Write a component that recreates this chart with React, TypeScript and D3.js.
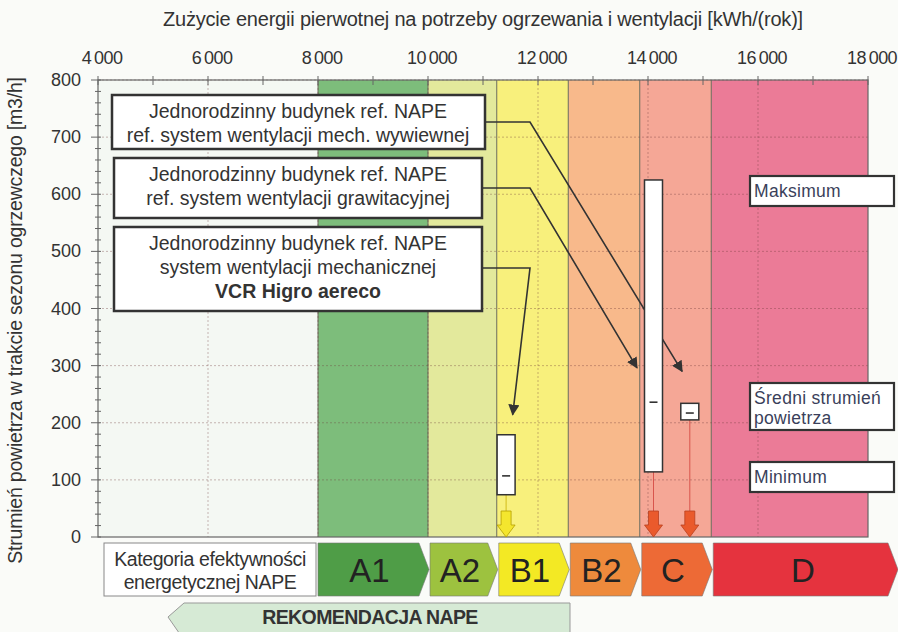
import * as d3 from 'd3';
import React from 'react';

// axis ticks
const energyTicks = [4000, 6000, 8000, 10000, 12000, 14000, 16000, 18000];
const energyMinor = d3.range(4000, 18001, 1000);
const flowTicks = [0, 100, 200, 300, 400, 500, 600, 700, 800];
const flowMinor = d3.range(0, 801, 20);

// energy classes (kWh/rok)
const classNames = ['A1', 'A2', 'B1', 'B2', 'C', 'D'];
const classStart = [8000, 10000, 11250, 12550, 13850, 15150];
const classEnd = [10000, 11250, 12550, 13850, 15150, 18000];
const bandColors = ['#7dbd7b', '#e3e99c', '#f8f07c', '#f8b98b', '#f5a796', '#eb7b97'];
const chipColors = ['#4f9d47', '#9dc23f', '#f3e924', '#ee8a3c', '#ed6a36', '#e5333e'];

// ventilation systems
const systemLabels = [
  ['Jednorodzinny budynek ref. NAPE', 'ref. system wentylacji mech. wywiewnej'],
  ['Jednorodzinny budynek ref. NAPE', 'ref. system wentylacji grawitacyjnej'],
  ['Jednorodzinny budynek ref. NAPE', 'system wentylacji mechanicznej', 'VCR Higro aereco'],
];
const systemEnergy = [14760, 14100, 11420];
const flowMin = [205, 114, 74];
const flowMean = [217, 236, 107];
const flowMax = [234, 625, 179];
// where the pointer of each label box ends (energy, flow)
const pointerEnergy = [14620, 13800, 11540];
const pointerFlow = [290, 296, 214];

const legendLabels = [['Maksimum'], ['Średni strumień', 'powietrza'], ['Minimum']];

const W = 898;
const H = 632;
const left = 98;
const right = 868;
const top = 80;
const bottom = 537;
const font = '"Liberation Sans", Arial, sans-serif';

export default function App() {
  const x = d3.scaleLinear().domain([4000, 18000]).range([left, right]);
  const y = d3.scaleLinear().domain([0, 800]).range([bottom, top]);

  const boxY = [
    [95, 149],
    [158, 218],
    [227, 311],
  ];
  const legendY = [
    [176, 206],
    [383, 430],
    [462, 492],
  ];
  const grid = 'rgba(110,55,55,0.45)';

  const chip = (x0: number, x1: number, y0: number, y1: number) => {
    const p = 10;
    return `M${x0},${y0}H${x1 - p}L${x1},${(y0 + y1) / 2}L${x1 - p},${y1}H${x0}Z`;
  };

  const downArrow = (cx: number, y0: number, y1: number) => {
    const s = 5;
    const h = 9;
    const hy = y1 - 12;
    return `M${cx - s},${y0}H${cx + s}V${hy}H${cx + h}L${cx},${y1}L${cx - h},${hy}H${cx - s}Z`;
  };

  return (
    <svg
      width={W}
      height={H}
      style={{ position: 'absolute', left: 0, top: 0, background: '#fafbf8' }}
      fontFamily={font}
    >
      <defs>
        <marker id="ah" viewBox="0 0 10 10" refX="9" refY="5" markerWidth="7" markerHeight="7" orient="auto">
          <path d="M0,0L10,5L0,10Z" fill="#333" />
        </marker>
      </defs>

      {/* title */}
      <text x={483} y={26} textAnchor="middle" fontSize={20} fill="#333" letterSpacing={-0.2}>
        Zużycie energii pierwotnej na potrzeby ogrzewania i wentylacji [kWh/(rok)]
      </text>
      <text
        transform={`translate(22,${(top + bottom) / 2 + 12}) rotate(-90)`}
        textAnchor="middle"
        fontSize={19.5}
        fill="#333"
        letterSpacing={-0.2}
      >
        Strumień powietrza w trakcie sezonu ogrzewczego [m3/h]
      </text>

      {/* plot background */}
      <rect x={left} y={top} width={x(8000) - left} height={bottom - top} fill="#f4f8f3" />
      {classNames.map((c, i) => (
        <rect
          key={c}
          x={x(classStart[i])}
          y={top}
          width={x(classEnd[i]) - x(classStart[i])}
          height={bottom - top}
          fill={bandColors[i]}
        />
      ))}
      {classStart.map((v) => (
        <line key={v} x1={x(v)} x2={x(v)} y1={top} y2={bottom} stroke="#6b6b5a" strokeWidth={1} />
      ))}

      {/* grid */}
      {flowTicks.slice(1).map((v) => (
        <line key={v} x1={left} x2={right} y1={y(v)} y2={y(v)} stroke={grid} strokeDasharray="2,2" strokeWidth={0.8} />
      ))}
      {energyTicks.slice(1, -1).map((v) => (
        <line key={v} x1={x(v)} x2={x(v)} y1={top} y2={bottom} stroke={grid} strokeDasharray="2,2" strokeWidth={0.8} />
      ))}

      {/* frame and axes */}
      <rect x={left} y={top} width={right - left} height={bottom - top} fill="none" stroke="#666" strokeWidth={1.2} />
      {energyMinor.map((v) => (
        <line key={v} x1={x(v)} x2={x(v)} y1={top - 4} y2={top + 5} stroke="#666" />
      ))}
      {energyTicks.map((v) => (
        <text key={v} x={x(v) + 4} y={64} textAnchor="middle" fontSize={18} fill="#333" letterSpacing={-0.6}>
          {d3.format(',')(v).replace(',', '\u2009')}
        </text>
      ))}
      {flowMinor.map((v) => (
        <line key={v} x1={left - (v % 100 === 0 ? 7 : 3)} x2={left + 3} y1={y(v)} y2={y(v)} stroke="#666" />
      ))}
      {flowTicks.map((v) => (
        <text key={v} x={81} y={y(v) + 6} textAnchor="end" fontSize={18} fill="#333">
          {v}
        </text>
      ))}

      {/* pointers from label boxes */}
      {systemLabels.map((_, i) => {
        const yy = (boxY[i][0] + boxY[i][1]) / 2 + (i === 2 ? -1 : 0);
        return (
          <path
            key={i}
            d={`M${i === 0 ? 485 : 482},${yy}H530L${x(pointerEnergy[i])},${y(pointerFlow[i])}`}
            fill="none"
            stroke="#333"
            strokeWidth={1.6}
            markerEnd="url(#ah)"
          />
        );
      })}

      {/* label boxes */}
      {systemLabels.map((lines, i) => (
        <g key={i}>
          <rect
            x={i === 0 ? 112 : 114}
            y={boxY[i][0]}
            width={i === 0 ? 373 : 368}
            height={boxY[i][1] - boxY[i][0]}
            fill="#fff"
            stroke="#333"
            strokeWidth={2.5}
          />
          {lines.map((t, j) => (
            <text
              key={j}
              x={298}
              y={boxY[i][0] + 23 + j * 24}
              textAnchor="middle"
              fontSize={19.5}
              fill="#333"
              fontWeight={j === 2 ? 'bold' : 'normal'}
            >
              {t}
            </text>
          ))}
        </g>
      ))}

      {/* thin lines from boxes to arrows */}
      {systemEnergy.map((v, i) => (
        <line
          key={v}
          x1={x(v)}
          x2={x(v)}
          y1={y(flowMin[i])}
          y2={bottom - 20}
          stroke={i === 2 ? '#c9b000' : '#d0403a'}
          strokeWidth={0.8}
        />
      ))}

      {/* min-max boxes */}
      {systemEnergy.map((v, i) => (
        <g key={v}>
          <rect
            x={x(v) - 9}
            y={y(flowMax[i])}
            width={18}
            height={y(flowMin[i]) - y(flowMax[i])}
            fill="#fff"
            stroke="#333"
            strokeWidth={1.5}
          />
          <line x1={x(v) - 4} x2={x(v) + 4} y1={y(flowMean[i])} y2={y(flowMean[i])} stroke="#333" strokeWidth={1.6} />
        </g>
      ))}

      {/* down arrows */}
      {systemEnergy.map((v, i) => (
        <path
          key={v}
          d={downArrow(x(v), bottom - 26, bottom)}
          fill={i === 2 ? '#f4e62e' : '#ea5a2c'}
          stroke={i === 2 ? '#b5a000' : '#b94020'}
          strokeWidth={0.8}
        />
      ))}

      {/* legend boxes */}
      {legendLabels.map((lines, i) => (
        <g key={i}>
          <rect
            x={750}
            y={legendY[i][0]}
            width={144}
            height={legendY[i][1] - legendY[i][0]}
            fill="#fff"
            stroke="#333"
            strokeWidth={2.2}
          />
          {lines.map((t, j) => (
            <text key={j} x={754} y={legendY[i][0] + 21 + j * 20} fontSize={17.5} fill="#3a3f5a" letterSpacing={0.3}>
              {t}
            </text>
          ))}
        </g>
      ))}

      {/* energy class chips */}
      <rect x={104} y={543} width={212} height={53} fill="#fff" stroke="#888" strokeWidth={1} />
      <text x={210} y={566} textAnchor="middle" fontSize={19.5} fill="#333" letterSpacing={-0.4}>
        Kategoria efektywności
      </text>
      <text x={210} y={589} textAnchor="middle" fontSize={19.5} fill="#333" letterSpacing={-0.4}>
        energetycznej NAPE
      </text>
      {classNames.map((c, i) => {
        const x0 = x(classStart[i]) + (i === 0 ? 0 : 2);
        const x1 = i === classNames.length - 1 ? W : x(classEnd[i]) + 1;
        return (
          <g key={c}>
            <path d={chip(x0, x1, 543, 596)} fill={chipColors[i]} stroke="#777" strokeWidth={0.6} />
            <text
              x={i === classNames.length - 1 ? 803 : (x0 + x1 - 8) / 2}
              y={582}
              textAnchor="middle"
              fontSize={33}
              fill="#222"
            >
              {c}
            </text>
          </g>
        );
      })}

      {/* recommendation arrow */}
      <path d="M168,617L184,603H570V640H184Z" fill="#d6ead5" stroke="#999" strokeWidth={1} />
      <text x={370} y={624} textAnchor="middle" fontSize={19.5} fontWeight="bold" fill="#333" letterSpacing={-0.6}>
        REKOMENDACJA NAPE
      </text>
    </svg>
  );
}
